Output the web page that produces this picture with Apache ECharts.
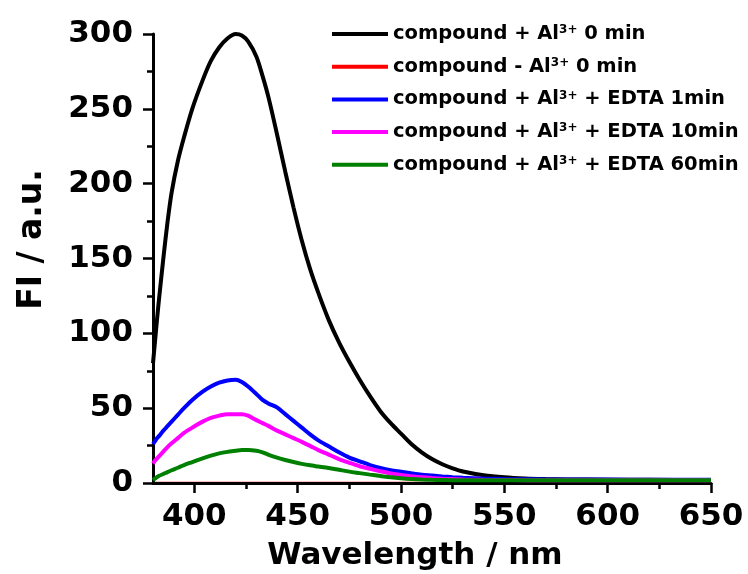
<!DOCTYPE html>
<html>
<head>
<meta charset="utf-8">
<script src="https://cdn.jsdelivr.net/npm/echarts@6/dist/echarts.min.js"></script>
<style>
  html, body { margin: 0; padding: 0; background: #fff; }
  #chart { width: 748px; height: 574px; }
</style>
</head>
<body>
<div id="chart"></div>
<script>
// Emission wavelength grid (nm) shared by all spectra
const wavelength = [380, 381, 382, 383, 385, 387, 389, 392, 395, 399, 404, 408, 412, 416, 420, 423, 426, 430, 433, 436, 440, 444, 448, 452, 456, 460, 465, 470, 475, 480, 485, 490, 495, 500, 505, 510, 515, 520, 525, 530, 540, 550, 560, 570, 580, 600, 620, 650];

// Fluorescence intensity (a.u.) for each sample
const alZero = [80, 95, 110, 124, 150, 174, 194, 215, 231, 250, 269, 282, 291, 297, 300, 299, 295, 285, 272, 257, 233, 208, 184, 162, 143, 127, 109, 94, 81, 69, 58, 48, 40, 33, 26, 20.5, 16, 12.5, 9.8, 7.7, 5.2, 3.8, 3, 2.6, 2.4, 2.2, 2.1, 2];
const noAlZero = [0, 0, 0, 0, 0, 0, 0, 0, 0, 0, 0, 0, 0, 0, 0, 0, 0, 0, 0, 0, 0, 0, 0, 0, 0, 0, 0, 0, 0, 0, 0, 0, 0, 0, 0, 0, 0, 0, 0, 0, 0, 0, 0, 0, 0, 0, 0, 0];
const edta1 = [26, 28, 30, 31.5, 35, 38, 41, 45.5, 50, 55.5, 61, 64.5, 67, 68.5, 69, 67.5, 64.5, 59.5, 55.5, 53, 50.5, 46, 41.5, 37, 32.5, 28.5, 24.5, 20.5, 17, 14.5, 12, 10, 8.5, 7.5, 6.5, 5.6, 5, 4.4, 3.9, 3.5, 3, 2.7, 2.5, 2.4, 2.3, 2.3, 2.2, 2.2];
const edta10 = [13, 15, 16.5, 18, 21, 24, 26.5, 30, 33.5, 37, 41, 43.5, 45, 46, 46, 46, 45, 42, 40, 38, 35, 32.5, 30, 27.5, 24.8, 22, 19, 16, 13.5, 11.2, 9.5, 7.8, 6.4, 5.3, 4.5, 3.8, 3.3, 2.9, 2.6, 2.4, 2.1, 2, 1.9, 1.9, 1.8, 1.8, 1.8, 1.8];
const edta60 = [2, 3, 4, 4.8, 6, 7.3, 8.5, 10.2, 12, 14, 16.5, 18.3, 19.8, 20.8, 21.5, 22, 22, 21.5, 20.5, 18.8, 17, 15.4, 14, 12.8, 11.8, 11, 10, 8.8, 7.6, 6.6, 5.6, 4.7, 3.8, 3.1, 2.6, 2.3, 2.1, 2, 1.9, 1.9, 1.8, 1.8, 1.8, 1.8, 1.8, 1.8, 1.8, 1.8];

const seriesNames = [
  'compound + Al3+ 0 min',
  'compound - Al3+ 0 min',
  'compound + Al3+ + EDTA 1min',
  'compound + Al3+ + EDTA 10min',
  'compound + Al3+ + EDTA 60min'
];
const seriesValues = [alZero, noAlZero, edta1, edta10, edta60];
const seriesColors = ['#000000', '#ff0000', '#0000ff', '#ff00ff', '#008000'];

// Axis tick positions
const xMajorTicks = [400, 450, 500, 550, 600, 650];
const xMinorTicks = [425, 475, 525, 575, 625];

const FONT = 'DejaVu Sans';

const chart = echarts.init(document.getElementById('chart'), null, { renderer: 'canvas' });

const series = seriesNames.map((name, i) => ({
  name: name,
  type: 'line',
  xAxisIndex: 0,
  yAxisIndex: 0,
  data: wavelength.map((w, j) => [w, seriesValues[i][j]]),
  showSymbol: false,
  smooth: 0.3,
  lineStyle: { color: seriesColors[i], width: i === 1 ? 2.5 : 4 },
  itemStyle: { color: seriesColors[i] },
  // the baseline trace sits beneath the axis line
  z: i === 1 ? -1 : 2 + i
}));

chart.setOption({
  animation: false,
  backgroundColor: '#ffffff',
  grid: { left: 153, right: 37, top: 34, bottom: 91, containLabel: false, outerBoundsMode: 'none' },
  legend: {
    orient: 'vertical',
    left: 327,
    top: 19,
    itemWidth: 56,
    itemHeight: 4,
    itemGap: 12.7,
    icon: 'rect',
    data: seriesNames,
    formatter: name => name.replace('Al3+', 'Al{sup|3+}'),
    textStyle: {
      fontFamily: FONT,
      fontWeight: 'bold',
      fontSize: 19.5,
      color: '#000',
      lineHeight: 20,
      rich: {
        sup: {
          fontFamily: FONT,
          fontWeight: 'bold',
          fontSize: 12,
          lineHeight: 12,
          verticalAlign: 'top',
          color: '#000'
        }
      }
    }
  },
  xAxis: [
    {
      type: 'value',
      min: 380,
      max: 650,
      position: 'bottom',
      name: 'Wavelength / nm',
      nameLocation: 'middle',
      nameGap: 57,
      nameTextStyle: {
        fontFamily: FONT, fontWeight: 'bold', fontSize: 31, color: '#000',
        padding: [0, 34, 0, 0]
      },
      axisLine: { show: true, onZero: false, lineStyle: { color: '#000', width: 3 } },
      axisTick: { show: true, inside: false, length: 10, customValues: xMajorTicks, lineStyle: { color: '#000', width: 2.5 } },
      axisLabel: {
        show: true, margin: 18, customValues: xMajorTicks,
        fontFamily: FONT, fontWeight: 'bold', fontSize: 31, color: '#000'
      },
      splitLine: { show: false }
    },
    {
      type: 'value',
      min: 380,
      max: 650,
      position: 'bottom',
      axisLine: { show: false, onZero: false },
      axisTick: { show: true, inside: false, length: 6, customValues: xMinorTicks, lineStyle: { color: '#000', width: 2.5 } },
      axisLabel: { show: false },
      splitLine: { show: false }
    }
  ],
  yAxis: {
    type: 'value',
    min: 0,
    max: 300,
    interval: 50,
    name: 'FI / a.u.',
    nameLocation: 'middle',
    nameRotate: 90,
    nameGap: 104,
    nameTextStyle: {
      fontFamily: FONT, fontWeight: 'bold', fontSize: 33, color: '#000',
      padding: [0, 0, 0, 38]
    },
    axisLine: { show: true, lineStyle: { color: '#000', width: 3 } },
    axisTick: { show: true, inside: false, length: 10, lineStyle: { color: '#000', width: 2.5 } },
    minorTick: { show: true, splitNumber: 2, length: 6, lineStyle: { color: '#000', width: 2.5 } },
    axisLabel: {
      margin: 20,
      fontFamily: FONT, fontWeight: 'bold', fontSize: 31, color: '#000'
    },
    splitLine: { show: false },
    minorSplitLine: { show: false }
  },
  series: series
});
</script>
</body>
</html>
